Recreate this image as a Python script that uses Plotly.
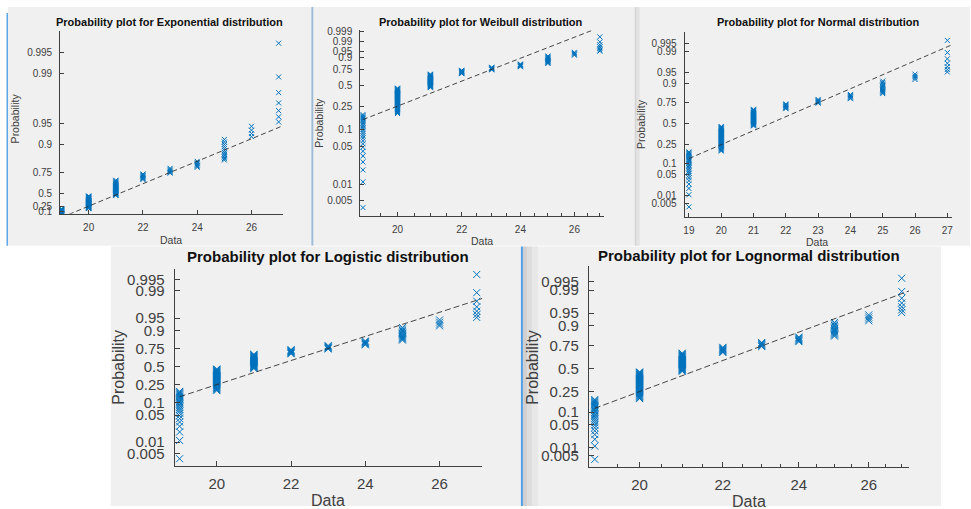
import math
from statistics import NormalDist
import plotly.graph_objects as go

# ---------------- data ----------------
data_values = [19, 20, 21, 22, 23, 24, 25, 26, 27]
data_counts = [25, 38, 29, 8, 6, 6, 12, 4, 7]

# reference line passes through the sample quartiles
ref_x = [20, 23]
ref_p = [0.25, 0.75]

titles = [
    "Probability plot for Exponential distribution",
    "Probability plot for Weibull distribution",
    "Probability plot for Normal distribution",
    "Probability plot for Logistic distribution",
    "Probability plot for Lognormal distribution",
]
exp_prob_ticks = [0.1, 0.25, 0.5, 0.75, 0.9, 0.95, 0.99, 0.995]
weib_prob_ticks = [0.005, 0.01, 0.05, 0.1, 0.25, 0.5, 0.75, 0.9, 0.95, 0.99, 0.999]
std_prob_ticks = [0.005, 0.01, 0.05, 0.1, 0.25, 0.5, 0.75, 0.9, 0.95, 0.99, 0.995]
x_ticks_even = [20, 22, 24, 26]
x_ticks_all = [19, 20, 21, 22, 23, 24, 25, 26, 27]
x_minor_half = [19.5, 20.5, 21, 21.5, 22.5, 23, 23.5, 24.5, 25, 25.5, 26.5, 27]

# ---------------- probability-scale transforms ----------------
ND = NormalDist()
def t_exp(p): return -math.log(1 - p)
def t_weib(p): return math.log(-math.log(1 - p))
def t_norm(p): return ND.inv_cdf(p)
def t_logis(p): return math.log(p / (1 - p))

# empirical plotting positions (i-0.5)/n
n = sum(data_counts)
xs, ps = [], []
k = 0
for v, c in zip(data_values, data_counts):
    for _ in range(c):
        k += 1
        xs.append(v)
        ps.append((k - 0.5) / n)

W, H = 971, 509
def px(x): return x / W
def py(y): return 1 - y / H

BLUE = "#0072BD"
TICKC = "#404040"
FONT = "Liberation Sans, Arial, sans-serif"

panels = [
    dict(tf=t_exp, xlog=False, xr=[18.95, 27.15], yr=[0.04, 6.0], xt=x_ticks_even, yt=exp_prob_ticks,
         dom=[59.3, 282.3, 27.3, 212.7], title_xy=(169, 18), ylab_xy=(14, 116), xlab_xy=(170, 239),
         big=False, minor=None),
    dict(tf=t_weib, xlog=True, xr=[18.925, 27.17], yr=[-5.958, 2.003], xt=x_ticks_even, yt=weib_prob_ticks,
         dom=[360, 604.3, 26.7, 215], title_xy=(481, 18), ylab_xy=(319, 120), xlab_xy=(482, 240),
         big=False, minor=x_minor_half),
    dict(tf=t_norm, xlog=False, xr=[18.866, 27.155], yr=[-3.005, 2.952], xt=x_ticks_all, yt=std_prob_ticks,
         dom=[685, 953.3, 28.3, 216], title_xy=(819, 18), ylab_xy=(642, 122), xlab_xy=(818, 241),
         big=False, minor=None),
    dict(tf=t_logis, xlog=False, xr=[18.866, 27.15], yr=[-6.03, 5.95], xt=x_ticks_even, yt=std_prob_ticks,
         dom=[174, 482.3, 268.3, 468.3], title_xy=(328, 256), ylab_xy=(118, 368), xlab_xy=(328, 503),
         big=True, minor=None),
    dict(tf=t_norm, xlog=True, xr=[18.87, 27.23], yr=[-2.90, 3.03], xt=x_ticks_even, yt=std_prob_ticks,
         dom=[589, 910, 266, 469.3], title_xy=(750, 255), ylab_xy=(533, 368), xlab_xy=(750, 504),
         big=True, minor=x_minor_half),
]

fig = go.Figure()
layout = {}
annotations = []

for i, P in enumerate(panels, start=1):
    sx = "" if i == 1 else str(i)
    tf = P["tf"]
    big = P["big"]
    tick_fs = 15 if big else 10
    title_fs = 15 if big else 11
    lab_fs = 16 if big else 10.5
    msize = 7 if big else 5

    ys = [tf(p) for p in ps]
    fig.add_trace(go.Scatter(
        x=xs, y=ys, mode="markers", xaxis="x" + sx, yaxis="y" + sx, showlegend=False,
        marker=dict(symbol="x-thin", size=msize, color=BLUE, line=dict(color=BLUE, width=1)),
        hoverinfo="skip"))

    # reference line through the quartiles (straight in transformed space)
    t1, t2 = tf(ref_p[0]), tf(ref_p[1])
    g = (lambda x: math.log(x)) if P["xlog"] else (lambda x: x)
    slope = (t2 - t1) / (g(ref_x[1]) - g(ref_x[0]))
    lx = [min(data_values), P["xr"][1]]
    ly = [t1 + slope * (g(x) - g(ref_x[0])) for x in lx]
    fig.add_trace(go.Scatter(
        x=lx, y=ly, mode="lines", xaxis="x" + sx, yaxis="y" + sx, showlegend=False,
        line=dict(color="rgba(40,40,40,0.85)", width=1, dash="6px,3px" if big else "5px,3px"),
        hoverinfo="skip"))

    x0, x1, yt, yb = P["dom"]
    xa = dict(
        domain=[px(x0), px(x1)], anchor="y" + sx,
        type="log" if P["xlog"] else "linear",
        range=[math.log10(P["xr"][0]), math.log10(P["xr"][1])] if P["xlog"] else P["xr"],
        tickmode="array", tickvals=P["xt"], ticktext=[str(v) for v in P["xt"]],
        ticks="inside", ticklen=5 if big else 4, tickcolor=TICKC, tickwidth=1,
        showline=True, linecolor=TICKC, linewidth=1, mirror=False,
        showgrid=False, zeroline=False,
        tickfont=dict(family=FONT, size=tick_fs, color=TICKC),
        ticklabelstandoff=4,
    )
    if P["minor"]:
        xa["minor"] = dict(tickmode="array", tickvals=P["minor"], ticks="inside",
                           ticklen=3, tickcolor=TICKC, tickwidth=1, showgrid=False)
    ya = dict(
        domain=[py(yb), py(yt)], anchor="x" + sx,
        range=P["yr"],
        tickmode="array", tickvals=[tf(p) for p in P["yt"]], ticktext=[str(p) for p in P["yt"]],
        ticks="inside", ticklen=5 if big else 4, tickcolor=TICKC, tickwidth=1,
        showline=True, linecolor=TICKC, linewidth=1, mirror=False,
        showgrid=False, zeroline=False,
        tickfont=dict(family=FONT, size=tick_fs, color=TICKC),
        ticklabelstandoff=6 if big else 5,
    )
    layout["xaxis" + sx] = xa
    layout["yaxis" + sx] = ya

    tx, ty = P["title_xy"]
    annotations.append(dict(text="<b>%s</b>" % titles[i - 1], x=px(tx), y=py(ty), xref="paper", yref="paper",
                            showarrow=False, xanchor="center", yanchor="middle",
                            font=dict(family=FONT, size=title_fs, color="#111111")))
    lx_, ly_ = P["ylab_xy"]
    annotations.append(dict(text="Probability", x=px(lx_), y=py(ly_), xref="paper", yref="paper",
                            showarrow=False, xanchor="center", yanchor="middle", textangle=-90,
                            font=dict(family=FONT, size=lab_fs, color=TICKC)))
    dx, dy = P["xlab_xy"]
    annotations.append(dict(text="Data", x=px(dx), y=py(dy), xref="paper", yref="paper",
                            showarrow=False, xanchor="center", yanchor="middle",
                            font=dict(family=FONT, size=lab_fs, color=TICKC)))

# window backgrounds (figure panels)
GRAY = "#f0f0f0"
def rect(x0, y0, x1, y1, color):
    return dict(type="rect", xref="paper", yref="paper", x0=px(x0), x1=px(x1), y0=py(y1), y1=py(y0),
                fillcolor=color, line=dict(width=0), layer="below")

shapes = [
    rect(7, 3, 311, 245, GRAY),
    rect(313, 3, 635, 245, GRAY),
    rect(635, 3, 971, 245, GRAY),
    rect(110, 246, 521, 509, GRAY),
    rect(523, 246, 942, 509, GRAY),
    # window edges
    rect(5.5, 9, 7, 245, "#5aa5ea"),
    rect(311, 3, 313, 245, "#9dbbd6"),
    rect(635, 3, 637, 245, "#d4d4d4"),
    rect(637, 3, 640, 245, "#e4e4e4"),
    rect(521, 246, 523, 509, "#4a9de6"),
    rect(523, 246, 527, 509, "#cfcfcf"),
    rect(527, 246, 532, 509, "#dcdcdc"),
    rect(532, 246, 538, 509, "#e7e7e7"),
]

fig.update_layout(
    width=W, height=H, margin=dict(l=0, r=0, t=0, b=0),
    paper_bgcolor="white", plot_bgcolor="white",
    showlegend=False, annotations=annotations, shapes=shapes,
    **layout,
)

fig.write_html(
    "out.html",
    config={"displayModeBar": False},
    post_script="document.body.style.margin='0';document.body.style.padding='0';"
                "document.body.style.overflow='hidden';",
)
